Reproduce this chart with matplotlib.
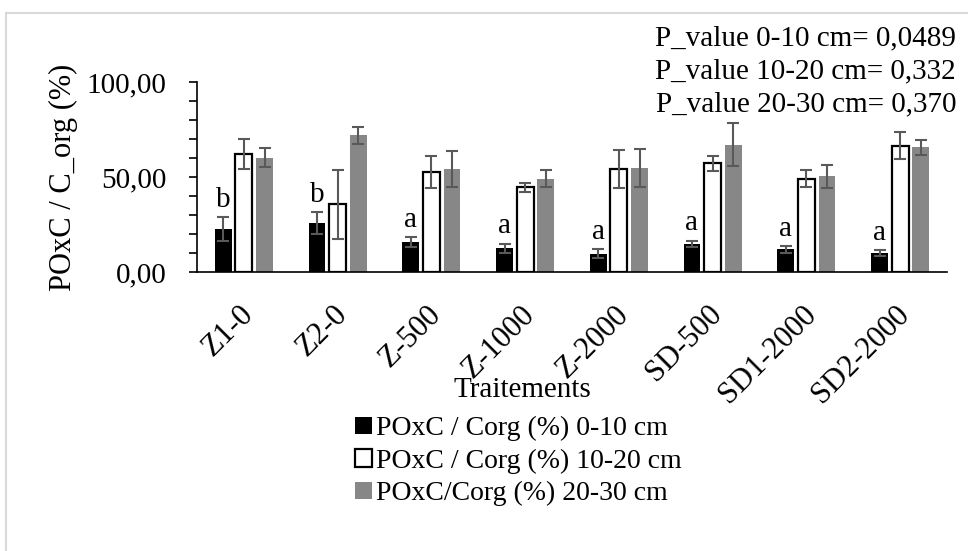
"""POxC / C_org ratio by treatment and depth, bar chart with error bars."""

import matplotlib
matplotlib.use("Agg")
import matplotlib.pyplot as plt
import matplotlib.transforms as mtransforms
import numpy as np
from matplotlib.patches import Rectangle
from matplotlib.ticker import MultipleLocator, FuncFormatter

treatments = ["Z1-0", "Z2-0", "Z-500", "Z-1000", "Z-2000", "SD-500", "SD1-2000", "SD2-2000"]

ratio_0_10 = [22.6, 25.8, 15.8, 12.4, 9.7, 14.7, 11.9, 9.8]
err_0_10 = [6.5, 5.8, 2.5, 2.6, 2.4, 1.8, 1.8, 1.6]

ratio_10_20 = [62.0, 35.6, 52.8, 44.6, 54.2, 57.2, 49.1, 66.5]
err_10_20 = [8.0, 18.0, 8.5, 2.4, 10.0, 3.8, 4.6, 7.2]

ratio_20_30 = [60.2, 72.0, 54.2, 49.0, 55.0, 67.0, 50.3, 65.6]
err_20_30 = [5.0, 4.5, 9.7, 4.5, 10.0, 11.4, 6.0, 4.0]

letters_0_10 = ["b", "b", "a", "a", "a", "a", "a", "a"]

p_values = ["P_value 0-10 cm= 0,0489", "P_value 10-20 cm= 0,332", "P_value 20-30 cm= 0,370"]

series_labels = ["POxC / Corg (%) 0-10 cm", "POxC / Corg (%) 10-20 cm", "POxC/Corg (%) 20-30 cm"]

plt.rcParams["font.family"] = ["Liberation Serif", "DejaVu Serif"]

W, H = 968, 551
fig = plt.figure(figsize=(W / 100, H / 100), dpi=100)

# light grey chart-area border (only top and left edges are visible)
fig.patches.append(Rectangle((6 / W, -0.1), 1.2, 1 - 13 / H + 0.1, transform=fig.transFigure,
                             fill=False, edgecolor="#d9d9d9", linewidth=1.5))

ax = fig.add_axes([197 / W, 1 - 272 / H, 750 / W, 190 / H])

x = np.arange(len(treatments))
bw = 0.18
step = 0.22
err_kw = dict(ecolor="#595959", elinewidth=1.5, capsize=4, capthick=1.5)

b1 = ax.bar(x - step, ratio_0_10, bw, yerr=err_0_10, color="black", error_kw=err_kw,
            label=series_labels[0])
b2 = ax.bar(x, ratio_10_20, bw, yerr=err_10_20, color="white", edgecolor="black",
            linewidth=1.6, error_kw=err_kw, label=series_labels[1])
b3 = ax.bar(x + step, ratio_20_30, bw, yerr=err_20_30, color="#878787", error_kw=err_kw,
            label=series_labels[2])

for xi, v, e, txt in zip(x - step, ratio_0_10, err_0_10, letters_0_10):
    ax.annotate(txt, (xi, v + e), xytext=(0, 3), textcoords="offset points",
                ha="center", va="bottom", fontsize=21)

ax.set_xlim(-0.5, len(treatments) - 0.5)
ax.set_ylim(0, 100)
ax.yaxis.set_major_locator(MultipleLocator(50))
ax.yaxis.set_minor_locator(MultipleLocator(10))
ax.yaxis.set_major_formatter(FuncFormatter(lambda v, _: f"{v:.2f}".replace(".", ",")))
ax.tick_params(axis="y", which="both", direction="out", length=6, width=1.2, labelsize=21, pad=16)
ax.tick_params(axis="x", length=0, labelsize=22, pad=20)
ax.set_xticks(x)
ax.set_xticklabels(treatments, rotation=45, ha="right", va="top", rotation_mode="anchor")
shift = mtransforms.ScaledTranslation(-5 / 100, 0, fig.dpi_scale_trans)
for lbl in ax.get_xticklabels():
    lbl.set_transform(lbl.get_transform() + shift)

for side in ("top", "right"):
    ax.spines[side].set_visible(False)
ax.spines["left"].set_linewidth(1.2)
ax.spines["bottom"].set_linewidth(1.2)

ax.set_ylabel("POxC / C_org (%)", fontsize=22)
ax.yaxis.set_label_coords(-0.159, 0.5)

fig.text(522 / W, 1 - 390 / H, "Traitements", ha="center", va="center", fontsize=21)

for i, txt in enumerate(p_values):
    fig.text(956 / W, 1 - (45 + 33 * i) / H, txt, ha="right", va="baseline", fontsize=21)

fig.legend(handles=[b1, b2, b3], labels=series_labels, loc="upper left",
           bbox_to_anchor=(355 / W, 1 - 416 / H), frameon=False, fontsize=20,
           handlelength=0.6, handleheight=0.6, handletextpad=0.15, labelspacing=0.27,
           borderpad=0, borderaxespad=0)

fig.savefig("out.png", dpi=100)
